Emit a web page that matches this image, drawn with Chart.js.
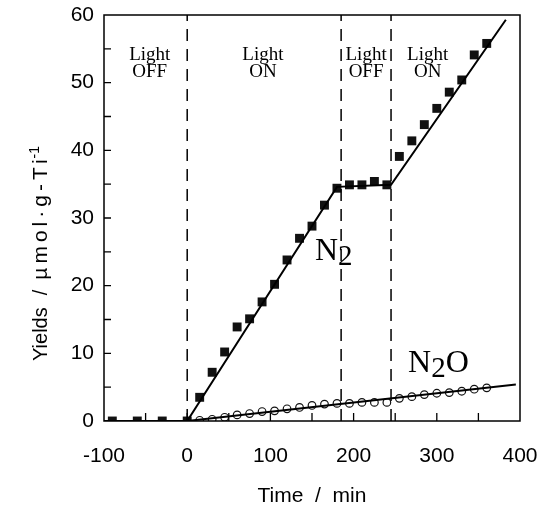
<!DOCTYPE html>
<html>
<head>
<meta charset="utf-8">
<script src="https://cdn.jsdelivr.net/npm/chart.js@4.4.1/dist/chart.umd.min.js"></script>
<style>
  html, body { margin: 0; padding: 0; background: #fff; overflow: hidden; }
  #wrap { width: 540px; height: 505px; }
</style>
</head>
<body>
<div id="wrap"><canvas id="yields"></canvas></div>
<script>
// sampling times (min) and yields (umol per g-Ti)
const n2Times   = [-90, -60, -30, 0, 15, 30, 45, 60, 75, 90, 105, 120, 135, 150, 165, 180,
                   195, 210, 225, 240, 255, 270, 285, 300, 315, 330, 345, 360];
const n2Yields  = [0, 0, 0, 0, 3.5, 7.2, 10.2, 13.9, 15.1, 17.6, 20.2, 23.8, 27.0, 28.8, 31.9, 34.4,
                   34.9, 34.9, 35.4, 34.9, 39.1, 41.4, 43.8, 46.2, 48.6, 50.4, 54.1, 55.8];
const n2oTimes  = [15, 30, 45, 60, 75, 90, 105, 120, 135, 150, 165, 180,
                   195, 210, 225, 240, 255, 270, 285, 300, 315, 330, 345, 360];
const n2oYields = [0.1, 0.25, 0.55, 0.9, 1.1, 1.4, 1.5, 1.8, 2.0, 2.3, 2.5, 2.6,
                   2.6, 2.75, 2.75, 2.75, 3.35, 3.6, 3.9, 4.1, 4.2, 4.4, 4.7, 4.9];

// fitted lines drawn through the points
const n2FitTimes   = [-100, 0, 180, 245, 383];
const n2FitYields  = [0, 0, 34.6, 34.9, 59.3];
const n2oFitTimes  = [0, 395];
const n2oFitYields = [0, 5.4];

// light switched on/off at these times
const switchTimes = [0, 185, 245];
const periodLabels = [
  { t: -45, text: ["Light", "OFF"] },
  { t: 91,  text: ["Light", "ON"] },
  { t: 215, text: ["Light", "OFF"] },
  { t: 289, text: ["Light", "ON"] }
];

const xMin = -100, xMax = 400, yMin = 0, yMax = 60;

const toXY = (xs, ys) => xs.map((x, i) => ({ x: x, y: ys[i] }));

const SANS = "'Liberation Sans', Arial, sans-serif";
const SERIF = "'Liberation Serif', 'Times New Roman', serif";

const dividerSets = switchTimes.map(t => ({
  type: "line",
  data: [{ x: t, y: yMin }, { x: t, y: yMax }],
  borderColor: "#000",
  borderWidth: 1.5,
  borderDash: [12, 8],
  pointRadius: 0,
  fill: false
}));

// frame, inward ticks and the text labels
const decorations = {
  id: "decorations",
  afterDraw(chart) {
    const { ctx, chartArea: a, scales: { x, y } } = chart;
    ctx.save();
    ctx.strokeStyle = "#000";
    ctx.lineWidth = 1.5;
    ctx.strokeRect(a.left, a.top, a.right - a.left, a.bottom - a.top);

    ctx.lineWidth = 1.3;
    ctx.beginPath();
    for (let v = yMin + 5; v < yMax; v += 5) {
      const py = y.getPixelForValue(v);
      ctx.moveTo(a.left, py);
      ctx.lineTo(a.left + 7, py);
    }
    for (let v = xMin + 50; v < xMax; v += 50) {
      const px = x.getPixelForValue(v);
      ctx.moveTo(px, a.bottom);
      ctx.lineTo(px, a.bottom - 8);
    }
    ctx.stroke();

    // Light ON / OFF labels
    ctx.fillStyle = "#000";
    ctx.textAlign = "center";
    ctx.textBaseline = "alphabetic";
    ctx.font = "19px " + SERIF;
    periodLabels.forEach(p => {
      const px = x.getPixelForValue(p.t);
      ctx.fillText(p.text[0], px, y.getPixelForValue(53.4));
      ctx.fillText(p.text[1], px, y.getPixelForValue(50.9));
    });

    // species labels with subscripts
    ctx.textAlign = "left";
    const species = (t, v, parts) => {
      let px = x.getPixelForValue(t);
      const py = y.getPixelForValue(v);
      parts.forEach(([s, sub]) => {
        ctx.font = (sub ? "29px " : "32px ") + SERIF;
        ctx.fillText(s, px, py + (sub ? 5 : 0));
        px += ctx.measureText(s).width;
      });
    };
    species(153.5, 23.8, [["N"], ["2", true]]);
    species(265.5, 7.2, [["N"], ["2", true], ["O"]]);

    // axis titles
    ctx.font = "21px " + SANS;
    ctx.textAlign = "center";
    ctx.fillText("Time  /  min", (a.left + a.right) / 2, 502);

    ctx.translate(47, 0);
    ctx.rotate(-Math.PI / 2);
    ctx.textAlign = "left";
    ctx.font = "20px " + SANS;
    let pos = -361;
    const put = (s, gap) => { ctx.fillText(s, pos, 0); pos += ctx.measureText(s).width + gap; };
    put("Yields", 12);
    put("/", 10);
    ctx.font = "21px " + SANS;
    ctx.letterSpacing = "4px";
    put("\u00b5mol\u00b7g-Ti", -3);
    ctx.letterSpacing = "0px";
    ctx.font = "14px " + SANS;
    ctx.fillText("-1", pos, -8);
    ctx.restore();
  }
};

new Chart(document.getElementById("yields"), {
  type: "scatter",
  data: {
    datasets: [
      {
        type: "line",
        data: toXY(n2FitTimes, n2FitYields),
        borderColor: "#000",
        borderWidth: 2,
        pointRadius: 0,
        fill: false
      },
      {
        type: "line",
        data: toXY(n2oFitTimes, n2oFitYields),
        borderColor: "#000",
        borderWidth: 2,
        pointRadius: 0,
        fill: false
      },
      ...dividerSets,
      {
        label: "N2",
        data: toXY(n2Times, n2Yields),
        pointStyle: "rect",
        pointRadius: 6.3,
        backgroundColor: "#111",
        borderColor: "#111",
        borderWidth: 0
      },
      {
        label: "N2O",
        data: toXY(n2oTimes, n2oYields),
        pointStyle: "circle",
        pointRadius: 3.8,
        backgroundColor: "rgba(0,0,0,0)",
        borderColor: "#111",
        borderWidth: 1.2
      }
    ]
  },
  options: {
    responsive: true,
    maintainAspectRatio: false,
    animation: false,
    devicePixelRatio: 1,
    layout: { padding: { top: 15, right: 20, left: 0, bottom: 0 } },
    plugins: { legend: { display: false }, tooltip: { enabled: false } },
    scales: {
      x: {
        type: "linear",
        min: xMin,
        max: xMax,
        afterFit: s => { s.height = 84; s.paddingLeft = 0; s.paddingRight = 0; },
        grid: { display: false, drawTicks: false },
        border: { display: false },
        ticks: { stepSize: 100, padding: 23, color: "#000", font: { family: SANS, size: 21 } }
      },
      y: {
        min: yMin,
        max: yMax,
        afterFit: s => { s.width = 104; s.paddingTop = 0; s.paddingBottom = 0; },
        grid: { display: false, drawTicks: false },
        border: { display: false },
        ticks: { stepSize: 10, padding: 10, color: "#000", font: { family: SANS, size: 21 } }
      }
    }
  },
  plugins: [decorations]
});
</script>
</body>
</html>
